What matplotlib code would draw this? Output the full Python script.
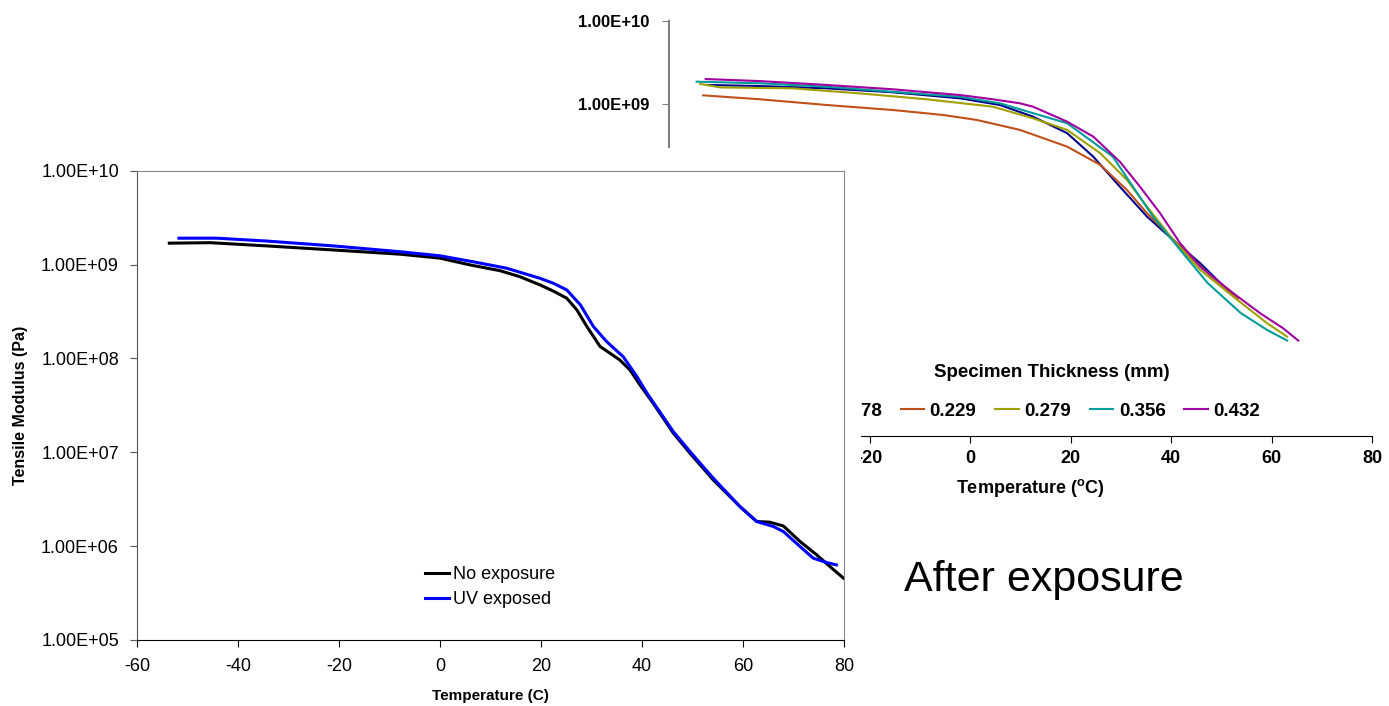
import matplotlib.pyplot as plt
from matplotlib.patches import Rectangle
from matplotlib.ticker import NullLocator

plt.rcParams['font.family'] = ['Liberation Sans', 'DejaVu Sans']
plt.rcParams['axes.unicode_minus'] = False
plt.rcParams['lines.solid_joinstyle'] = 'round'

# -------------------- DATA: front chart (exposure comparison) --------------------
temp_no = [-53.6, -45.5, -34.3, -21.1, -7.9, 0.0, 6.0, 11.9, 15.8, 19.8, 22.5, 25.1, 27.1,
           29.1, 31.7, 35.6, 37.6, 39.6, 42.2, 46.2, 49.5, 54.1, 59.4, 62.7, 65.3,
           68.0, 71.3, 74.6, 77.2, 79.9]
mod_no = [1.69e9, 1.71e9, 1.58e9, 1.43e9, 1.29e9, 1.17e9, 9.9e8, 8.6e8, 7.43e8, 6.07e8,
          5.2e8, 4.38e8, 3.29e8, 2.18e8, 1.34e8, 9.64e7, 7.55e7, 5.22e7, 3.33e7, 1.60e7, 9.77e6,
          5.08e6, 2.64e6, 1.83e6, 1.80e6, 1.64e6, 1.12e6, 8.07e5, 6.07e5, 4.56e5]

temp_uv = [-51.7, -44.2, -34.3, -21.1, -7.9, 0.0, 6.6, 13.2, 19.8, 22.5, 25.1, 27.8, 30.4,
           33.0, 36.3, 39.0, 41.0, 46.2, 49.5, 54.1, 59.4, 62.7, 66.0, 68.0, 71.3,
           73.9, 76.6, 78.5]
mod_uv = [1.91e9, 1.91e9, 1.78e9, 1.58e9, 1.37e9, 1.24e9, 1.07e9, 9.14e8, 7.14e8, 6.3e8, 5.37e8,
          3.72e8, 2.18e8, 1.51e8, 1.04e8, 6.40e7, 4.26e7, 1.66e7, 1.02e7, 5.30e6, 2.64e6,
          1.83e6, 1.62e6, 1.43e6, 9.9e5, 7.45e5, 6.68e5, 6.31e5]

# -------------------- DATA: back chart (specimen thickness) --------------------
thickness = ["0.178", "0.229", "0.279", "0.356", "0.432"]

temp_178 = [-52.5, -41.9, -28.6, -15.4, -2.0, 5.9, 12.5, 19.3, 24.5, 29.8, 35.2, 40.4, 45.8, 52.5]
mod_178 = [1.68e9, 1.63e9, 1.53e9, 1.37e9, 1.16e9, 9.64e8, 6.98e8, 4.41e8, 2.30e8, 1.00e8,
           4.37e7, 2.29e7, 1.20e7, 4.79e6]

temp_229 = [-53.2, -41.9, -28.6, -15.4, -5.4, 1.3, 9.9, 19.3, 25.9, 31.2, 35.2, 39.2, 43.2, 47.3, 53.3]
mod_229 = [1.26e9, 1.13e9, 9.64e8, 8.39e8, 7.31e8, 6.37e8, 4.83e8, 3.04e8, 1.83e8, 9.14e7,
           4.80e7, 2.75e7, 1.58e7, 9.1e6, 4.55e6]

temp_279 = [-53.8, -49.8, -35.3, -22.0, -8.7, 4.5, 12.5, 19.3, 25.9, 31.2, 35.2, 40.4, 45.8,
            52.4, 59.1, 63.1]
mod_279 = [1.73e9, 1.57e9, 1.53e9, 1.33e9, 1.13e9, 9.20e8, 6.67e8, 4.83e8, 2.53e8, 1.21e8,
           5.75e7, 2.29e7, 9.98e6, 4.75e6, 2.28e6, 1.57e6]

temp_356 = [-54.5, -41.9, -28.6, -15.4, -2.0, 5.9, 19.3, 28.4, 32.4, 36.4, 41.8, 47.3, 53.9, 59.1, 63.1]
mod_356 = [1.84e9, 1.76e9, 1.60e9, 1.39e9, 1.21e9, 1.01e9, 5.81e8, 2.30e8, 1.00e8, 4.37e7,
           1.74e7, 6.90e6, 3.01e6, 1.89e6, 1.41e6]

temp_432 = [-52.7, -41.9, -28.6, -15.4, -2.0, 4.5, 9.9, 12.5, 19.3, 24.5, 29.8, 33.8, 37.8,
            41.8, 45.8, 52.4, 57.7, 62.3, 65.3]
mod_432 = [1.98e9, 1.87e9, 1.68e9, 1.49e9, 1.27e9, 1.13e9, 1.01e9, 9.20e8, 6.07e8, 4.01e8,
           2.00e8, 1.00e8, 4.80e7, 2.09e7, 1.09e7, 5.22e6, 3.01e6, 1.98e6, 1.41e6]

decades = [1e5, 1e6, 1e7, 1e8, 1e9, 1e10]
decade_labels = ["1.00E+05", "1.00E+06", "1.00E+07", "1.00E+08", "1.00E+09", "1.00E+10"]
temp_ticks = [-60, -40, -20, 0, 20, 40, 60, 80]

back_colors = ["#00008B", "#C0501A", "#A0A000", "#009B9B", "#A000A0"]

# -------------------- FIGURE --------------------
W, H = 1389, 706
fig = plt.figure(figsize=(W / 100, H / 100), dpi=100)

# -------------------- BACK CHART --------------------
axb = fig.add_axes([669 / W, 1 - 436 / H, 703 / W, 415.4 / H], zorder=0)
back_temps = [temp_178, temp_229, temp_279, temp_356, temp_432]
back_mods = [mod_178, mod_229, mod_279, mod_356, mod_432]
for t, m, lab, c in zip(back_temps, back_mods, thickness, back_colors):
    axb.plot(t, m, color=c, lw=1.5, label=lab)

axb.set_yscale("log")
axb.set_xlim(-60, 80)
axb.set_ylim(1e5, 1e10)
axb.set_yticks(decades, labels=decade_labels)
axb.yaxis.set_minor_locator(NullLocator())
axb.set_xticks(temp_ticks)
axb.spines["top"].set_visible(False)
axb.spines["right"].set_visible(False)
axb.spines["left"].set_color("#808080")
axb.spines["left"].set_linewidth(1.5)
axb.spines["bottom"].set_color("black")
axb.tick_params(axis="y", direction="out", length=5, color="#808080", pad=9)
axb.tick_params(axis="x", direction="out", length=5, color="black", pad=5)
for lbl in axb.get_xticklabels():
    lbl.set_fontweight("bold")
    lbl.set_fontsize(13)
for lbl in axb.get_yticklabels():
    lbl.set_fontweight("bold")
    lbl.set_fontsize(12)
axb.set_xlabel(r"Temperature ($\mathregular{^o}$C)", fontsize=13, fontweight="bold", va="center")
axb.xaxis.set_label_coords((1030 - 669) / 703, (436 - 488) / 415.4)

axb.legend(loc="center left", bbox_to_anchor=(806 / W, 1 - 411 / H), bbox_transform=fig.transFigure,
           ncol=5, frameon=False, borderpad=0, borderaxespad=0, handlelength=1.25,
           handletextpad=0.3, columnspacing=1.0, prop={"weight": "bold", "size": 13.5})
fig.text(1052 / W, 1 - 373 / H, "Specimen Thickness (mm)", ha="center", va="center",
         fontsize=13.5, fontweight="bold")

# white panel of the front chart covering the back one
fig.add_artist(Rectangle((0, 0), 861 / W, (H - 148) / H, transform=fig.transFigure,
                         facecolor="white", edgecolor="none", zorder=1))

# -------------------- FRONT CHART --------------------
ax = fig.add_axes([137 / W, 1 - 640 / H, 707 / W, 469.3 / H], zorder=2)
ax.plot(temp_no, mod_no, color="black", lw=2.2, label="No exposure")
ax.plot(temp_uv, mod_uv, color="#0000FF", lw=2.2, label="UV exposed")

ax.set_yscale("log")
ax.set_xlim(-60, 80)
ax.set_ylim(1e5, 1e10)
ax.set_yticks(decades, labels=decade_labels)
ax.yaxis.set_minor_locator(NullLocator())
ax.set_xticks(temp_ticks)
ax.spines["top"].set_color("#888888")
ax.spines["right"].set_color("#888888")
ax.spines["left"].set_color("#555555")
ax.spines["bottom"].set_color("black")
ax.tick_params(axis="y", direction="out", length=5, color="#555555", pad=8, labelsize=13)
ax.tick_params(axis="x", direction="out", length=5, color="black", pad=8, labelsize=13)

ax.set_xlabel("Temperature (C)", fontsize=11, fontweight="bold", va="center")
ax.xaxis.set_label_coords(0.5, (640 - 696) / 469.3)
ax.set_ylabel("Tensile Modulus (Pa)", fontsize=11.5, fontweight="bold", va="center")
ax.yaxis.set_label_coords((21 - 137) / 707, 0.5)

ax.legend(loc="upper left", bbox_to_anchor=(425 / W, 1 - 566 / H), bbox_transform=fig.transFigure,
          frameon=False, borderpad=0, borderaxespad=0, handlelength=1.35, handletextpad=0.2,
          labelspacing=0.45, fontsize=13)

# -------------------- SLIDE CAPTION --------------------
fig.text(1044 / W, 1 - 580 / H, "After exposure", ha="center", va="center", fontsize=31)

fig.savefig("out.png", dpi=100, facecolor="white")
